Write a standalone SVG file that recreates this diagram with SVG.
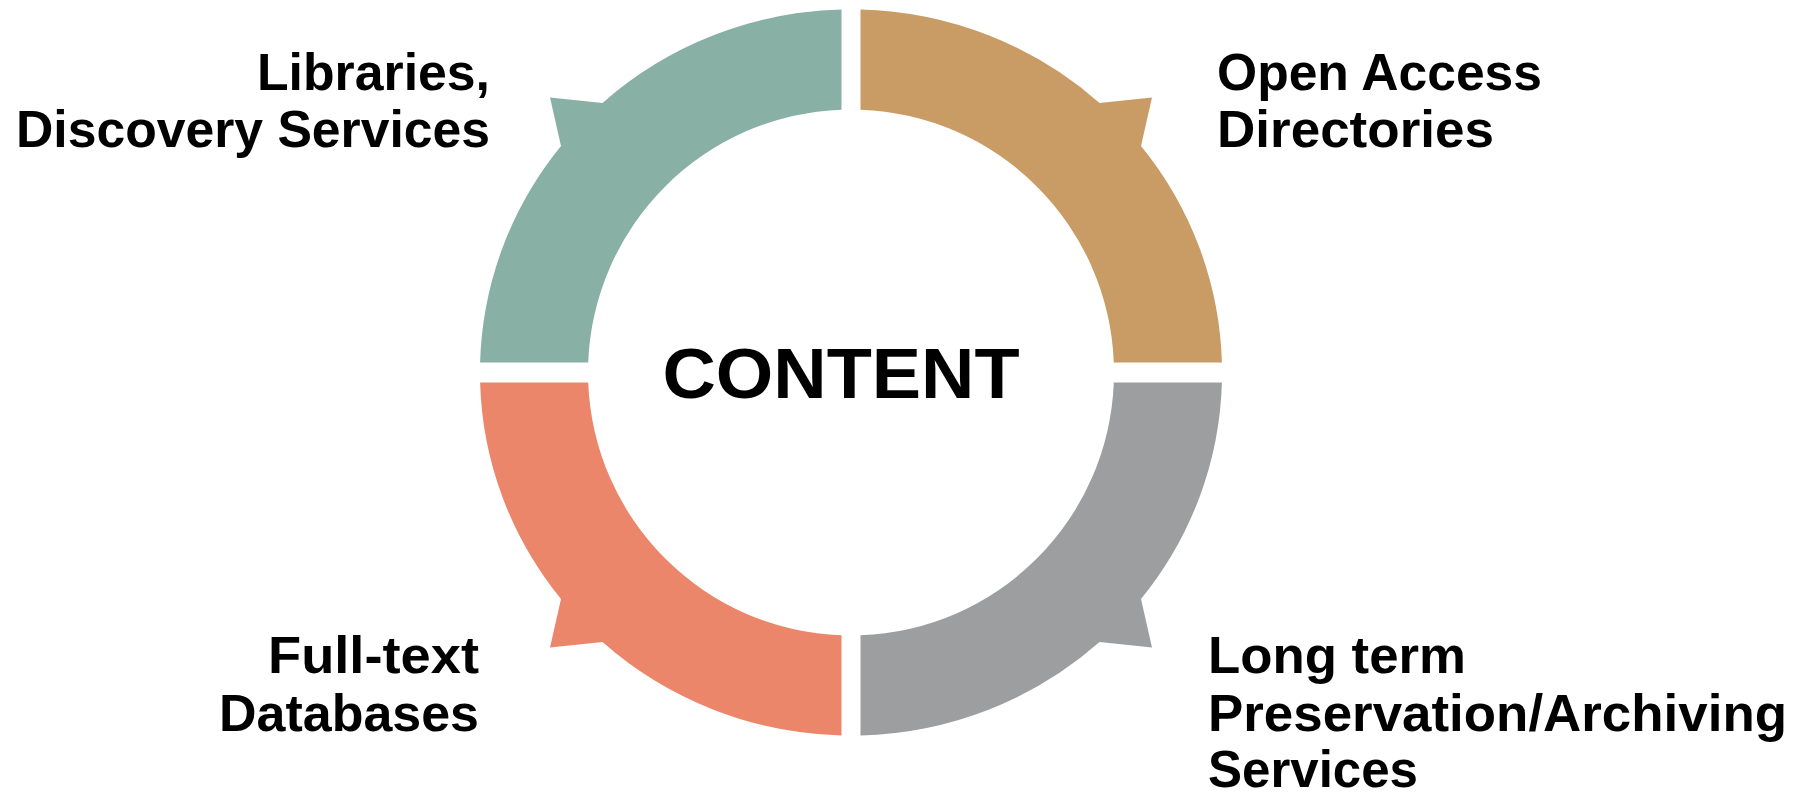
<svg xmlns="http://www.w3.org/2000/svg" width="1800" height="796" viewBox="0 0 1800 796">
<style>
.lbl{font-family:"Liberation Sans",Arial,sans-serif;font-weight:bold;font-size:52px;fill:#000}
.ctr{font-family:"Liberation Sans",Arial,sans-serif;font-weight:bold;font-size:70px;fill:#000}
.teal{fill:#88B0A4}.tan{fill:#C89C64}.orange{fill:#EB866B}.gray{fill:#9D9EA0}
</style>
<rect width="1800" height="796" fill="#fff"/>
<g id="seg-libraries">
<path class="teal" d="M 841.5 9.6 A 371 363 0 0 0 602.5 103 L 550 97.5 L 561 146 A 371 363 0 0 0 480.1 362.5 L 588.2 362.5 A 263 263 0 0 1 841.5 109.7 Z"/>
<text class="lbl" text-anchor="end"><tspan x="490" y="89.5" textLength="233" lengthAdjust="spacingAndGlyphs">Libraries,</tspan><tspan x="490" y="147" textLength="474" lengthAdjust="spacingAndGlyphs">Discovery Services</tspan></text>
</g>
<g id="seg-openaccess">
<path class="tan" d="M 860.5 9.6 A 371 363 0 0 1 1099.5 103 L 1152 97.5 L 1141 146 A 371 363 0 0 1 1221.9 362.5 L 1113.8 362.5 A 263 263 0 0 0 860.5 109.7 Z"/>
<text class="lbl"><tspan x="1217" y="89.5" textLength="325" lengthAdjust="spacingAndGlyphs">Open Access</tspan><tspan x="1217" y="147" textLength="277" lengthAdjust="spacingAndGlyphs">Directories</tspan></text>
</g>
<g id="seg-fulltext">
<path class="orange" d="M 841.5 735.4 A 371 363 0 0 1 602.5 642 L 550 647.5 L 561 599 A 371 363 0 0 1 480.1 382.5 L 588.2 382.5 A 263 263 0 0 0 841.5 635.3 Z"/>
<text class="lbl" text-anchor="end"><tspan x="479" y="672.7" textLength="211" lengthAdjust="spacingAndGlyphs">Full-text</tspan><tspan x="479" y="731" textLength="260" lengthAdjust="spacingAndGlyphs">Databases</tspan></text>
</g>
<g id="seg-preservation">
<path class="gray" d="M 860.5 735.4 A 371 363 0 0 0 1099.5 642 L 1152 647.5 L 1141 599 A 371 363 0 0 0 1221.9 382.5 L 1113.8 382.5 A 263 263 0 0 1 860.5 635.3 Z"/>
<text class="lbl"><tspan x="1208" y="672.7" textLength="258" lengthAdjust="spacingAndGlyphs">Long term</tspan><tspan x="1208" y="731" textLength="579" lengthAdjust="spacingAndGlyphs">Preservation/Archiving</tspan><tspan x="1208" y="787" textLength="210" lengthAdjust="spacingAndGlyphs">Services</tspan></text>
</g>
<g id="center">
<text class="ctr" x="841" y="398" text-anchor="middle" textLength="357" lengthAdjust="spacingAndGlyphs">CONTENT</text>
</g>
<g id="connectors"></g>
</svg>
